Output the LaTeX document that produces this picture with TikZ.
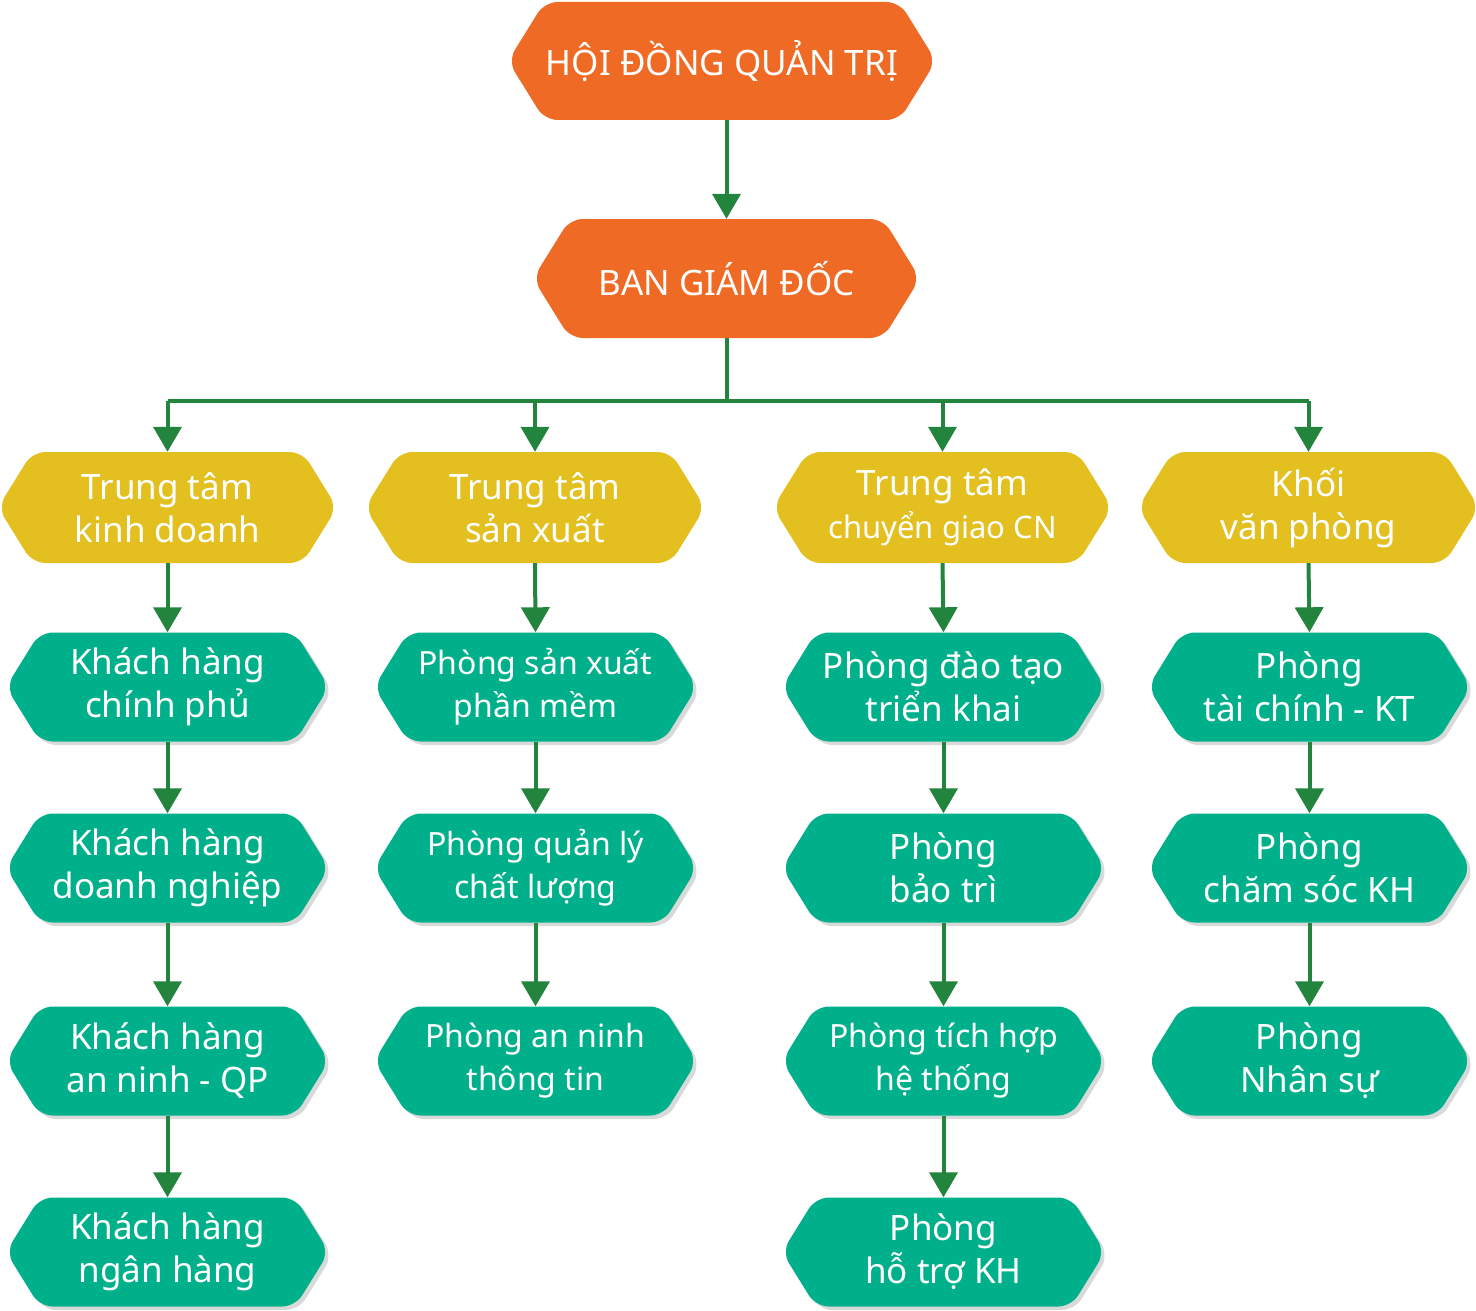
\documentclass[tikz,border=0pt]{standalone}
\usepackage{fontspec}
\setmainfont{Noto Sans}
\usetikzlibrary{arrows.meta}

\definecolor{boardorange}{HTML}{EF6A24}
\definecolor{centeryellow}{HTML}{E3C020}
\definecolor{deptgreen}{HTML}{00B08A}
\definecolor{linkgreen}{HTML}{23843E}

\tikzset{
  orangebox/.style={fill=boardorange, rounded corners=13pt},
  yellowbox/.style={fill=centeryellow, rounded corners=13pt},
  greenbox/.style={fill=deptgreen, rounded corners=13pt,
    preaction={fill=black!25, fill opacity=0.6,
      transform canvas={shift={(3.5pt,-3.5pt)}}}},
  label/.style={text=white, align=center, inner sep=0pt,
    font=\fontsize{35}{43}\selectfont},
  smalllabel/.style={label, font=\fontsize{32}{43}\selectfont},
  link/.style={draw=linkgreen, line width=4pt},
  linkarrow/.style={link, -{Triangle[width=28pt,length=25pt]}},
}

% \hexbox{style}{name}{cx}{cy}{width}{height}{label style}{text}
\newcommand\hexbox[8]{%
  \pgfmathsetmacro\hexhw{#5/2+4}%
  \pgfmathsetmacro\hexhh{#6/2}%
  \pgfmathsetmacro\hexin{\hexhh*0.62}%
  \path[#1] (#3-\hexhw,-#4) -- (#3-\hexhw+\hexin,-#4+\hexhh)
    -- (#3+\hexhw-\hexin,-#4+\hexhh) -- (#3+\hexhw,-#4)
    -- (#3+\hexhw-\hexin,-#4-\hexhh) -- (#3-\hexhw+\hexin,-#4-\hexhh) -- cycle;
  \node[#7, minimum width=#5pt, minimum height=#6pt] (#2) at (#3,-#4) {#8};%
}

\begin{document}
\begin{tikzpicture}[x=1pt,y=1pt]
\useasboundingbox (0,0) rectangle (1476,-1311);

% board and directors
\hexbox{orangebox}{hdqt}{722}{61}{420}{118}{label}{HỘI ĐỒNG QUẢN TRỊ}
\hexbox{orangebox}{bgd}{726.5}{278.5}{379}{119}{label}{BAN GIÁM ĐỐC}

% centres
\hexbox{yellowbox}{ttkd}{167.5}{507.5}{331}{111}{label}{Trung tâm\\kinh doanh}
\hexbox{yellowbox}{ttsx}{535}{507.5}{332}{111}{label}{Trung tâm\\sản xuất}
\hexbox{yellowbox}{ttcg}{942.5}{507.5}{331}{111}{label}{Trung tâm\\{\fontsize{31}{43}\selectfont chuyển giao CN}}
\hexbox{yellowbox}{kvp}{1308.5}{507.5}{333}{111}{label}{Khối\\văn phòng}

% business centre departments
\hexbox{greenbox}{khcp}{167.5}{687}{315}{109}{label}{Khách hàng\\chính phủ}
\hexbox{greenbox}{khdn}{167.5}{868}{315}{109}{label}{Khách hàng\\doanh nghiệp}
\hexbox{greenbox}{khan}{167.5}{1061}{315}{109}{label}{Khách hàng\\an ninh - QP}
\hexbox{greenbox}{khnh}{167.5}{1252}{315}{109}{label}{Khách hàng\\ngân hàng}

% production centre departments
\hexbox{greenbox}{psx}{535.5}{687}{315}{109}{smalllabel}{Phòng sản xuất\\phần mềm}
\hexbox{greenbox}{pql}{535.5}{868}{315}{109}{smalllabel}{Phòng quản lý\\chất lượng}
\hexbox{greenbox}{pan}{535.5}{1061}{315}{109}{smalllabel}{Phòng an ninh\\thông tin}

% technology transfer centre departments
\hexbox{greenbox}{pdt}{943.5}{687}{315}{109}{label}{Phòng đào tạo\\triển khai}
\hexbox{greenbox}{pbt}{943.5}{868}{315}{109}{label}{Phòng\\bảo trì}
\hexbox{greenbox}{pth}{943.5}{1061}{315}{109}{smalllabel}{Phòng tích hợp\\hệ thống}
\hexbox{greenbox}{pht}{943.5}{1252}{315}{109}{label}{Phòng\\hỗ trợ KH}

% office block departments
\hexbox{greenbox}{ptc}{1309.5}{687}{315}{109}{label}{Phòng\\tài chính - KT}
\hexbox{greenbox}{pcs}{1309.5}{868}{315}{109}{label}{Phòng\\chăm sóc KH}
\hexbox{greenbox}{pns}{1309.5}{1061}{315}{109}{label}{Phòng\\Nhân sự}

% board to directors
\draw[linkarrow] (hdqt.south -| bgd.north) -- (bgd.north);

% directors to centres
\draw[link] (bgd.south) -- ++(0,-63) coordinate (bus);
\draw[link] (bus -| ttkd.north) -- (bus -| kvp.north);
\foreach \c in {ttkd,ttsx,ttcg,kvp}
  \draw[linkarrow] (bus -| \c.north) -- (\c.north);

% chains of departments
\foreach \a/\b in {ttkd/khcp, khcp/khdn, khdn/khan, khan/khnh,
                   ttsx/psx, psx/pql, pql/pan,
                   ttcg/pdt, pdt/pbt, pbt/pth, pth/pht,
                   kvp/ptc, ptc/pcs, pcs/pns}
  \draw[linkarrow] (\a.south) -- (\b.north);

\end{tikzpicture}
\end{document}
